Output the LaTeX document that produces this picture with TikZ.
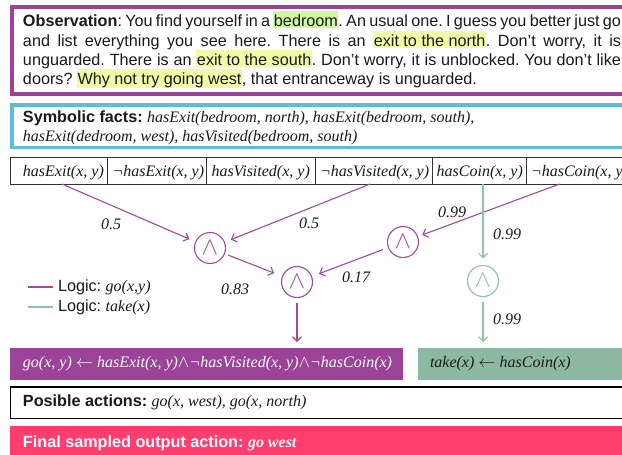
\documentclass[tikz,border=0pt]{standalone}
\usepackage{fontspec}
\setmainfont{Liberation Sans}
\newfontfamily\tms{Liberation Serif}
\usetikzlibrary{arrows.meta}
\definecolor{purp}{HTML}{9B4497}
\definecolor{purpline}{HTML}{A04AA0}
\definecolor{cyanb}{HTML}{5BBED8}
\definecolor{greenf}{HTML}{8CB9A0}
\definecolor{greenl}{HTML}{8CC4A6}
\definecolor{pinkf}{HTML}{FF3D6E}
\definecolor{hlgreen}{HTML}{CDF7A0}
\definecolor{hlyellow}{HTML}{F0FBA8}
\definecolor{tableline}{HTML}{333333}
\definecolor{txt}{HTML}{1A1A1A}
\newcommand\hlbox[2]{{\setlength\fboxsep{0pt}\colorbox{#1}{\rule[-1.5pt]{0pt}{17pt}\kern0.5pt #2\kern0.5pt}}}
\newcommand\ti[1]{{\tms\itshape\fontsize{16}{19}\selectfont #1}}
\begin{document}
\frenchspacing
\begin{tikzpicture}[x=1pt,y=-1pt,
  every node/.style={inner sep=0pt, outer sep=0pt},
  sans/.style={font=\fontsize{16.2}{19}\selectfont, anchor=base west, text=txt},
  frame/.style={draw, rectangle, anchor=north west},
  cell/.style={draw=tableline, line width=1pt, rectangle, anchor=north west, minimum height=27pt},
  celltxt/.style={anchor=base west, font=\tms\itshape\fontsize{16}{19}\selectfont, text=txt},
  gate/.style={circle, draw, line width=1.1pt, minimum size=31pt, font=\fontsize{24}{24}\selectfont},
  garrow/.style={-{Straight Barb[length=4.5pt,width=9pt]}, line width=1.1pt},
  lbl/.style={font=\tms\itshape\fontsize{16}{16}\selectfont, text=txt},
  ]
\useasboundingbox (0,0) rectangle (622,455);
\begin{scope}
\clip (0,0) rectangle (622,455);
\fill[white] (0,0) rectangle (622,455);

% observation
\node[frame, draw=purp, line width=3.5pt, minimum width=640pt, minimum height=87pt] (obs) at (12,7) {};
\node[sans] (ol1) at (23,27) {\makebox[598pt][s]{\textbf{Observation}: You find yourself in a \hlbox{hlgreen}{bedroom}. An usual one. I guess you better just go}};
\node[sans] (ol2) at (23,46) {\makebox[598pt][s]{and list everything you see here. There is an \hlbox{hlyellow}{exit to the north}. Don't worry, it is}};
\node[sans] (ol3) at (23,65.5) {\makebox[598pt][s]{unguarded. There is an \hlbox{hlyellow}{exit to the south}. Don't worry, it is unblocked. You don't like}};
\node[sans] (ol4) at (23,84.5) {doors? \hlbox{hlyellow}{Why not try going west}, that entranceway is unguarded.};

% symbolic facts
\node[frame, draw=cyanb, line width=3.5pt, minimum width=640pt, minimum height=42.5pt] (facts) at (12,105) {};
\node[sans] (f1) at (23,122) {\textbf{Symbolic facts:} \ti{hasExit(bedroom, north), hasExit(bedroom, south),}};
\node[sans] (f2) at (23,141) {\ti{hasExit(dedroom, west), hasVisited(bedroom, south)}};

% table
\node[cell, minimum width=96.8pt] (c1) at (10.5,157) {};
\node[cell, minimum width=99.4pt] (c2) at (107.3,157) {};
\node[cell, minimum width=108.3pt] (c3) at (206.7,157) {};
\node[cell, minimum width=117.3pt] (c4) at (315,157) {};
\node[cell, minimum width=94.4pt] (c5) at (432.3,157) {};
\node[cell, minimum width=110pt] (c6) at (526.7,157) {};
\node[celltxt] (t1) at (23,176) {hasExit(x, y)};
\node[celltxt] (t2) at (112.5,176) {¬hasExit(x, y)};
\node[celltxt] (t3) at (211.5,176) {hasVisited(x, y)};
\node[celltxt] (t4) at (320,176) {¬hasVisited(x, y)};
\node[celltxt] (t5) at (436.7,176) {hasCoin(x, y)};
\node[celltxt] (t6) at (531,176) {¬hasCoin(x, y)};

% rule boxes
\node[anchor=north west, fill=purp, minimum width=393pt, minimum height=32pt] (gobox) at (10,348) {};
\node[anchor=north west, fill=greenf, minimum width=230pt, minimum height=32pt] (takebox) at (418,348) {};
\node[anchor=west, text=white] (gotxt) at (23,364) {\ti{go(x, y) $\leftarrow$ hasExit(x, y)$\wedge$¬hasVisited(x, y)$\wedge$¬hasCoin(x)}};
\node[anchor=west, text=txt] (taketxt) at (430,364) {\ti{take(x) $\leftarrow$ hasCoin(x)}};

% actions
\node[frame, draw=black, line width=1.2pt, minimum width=640pt, minimum height=31.3pt] (actions) at (10.5,387) {};
\node[anchor=west, text=txt, font=\fontsize{16.2}{19}\selectfont] (acttxt) at (23,402) {\textbf{Posible actions:} \ti{go(x, west), go(x, north)}};

% final
\node[anchor=north west, fill=pinkf, minimum width=640pt, minimum height=32pt] (final) at (10,426) {};
\node[anchor=west, text=white, font=\fontsize{16.2}{19}\selectfont] (fintxt) at (23,443) {\textbf{Final sampled output action:} {\tms\bfseries\itshape\fontsize{16}{19}\selectfont go west}};

% gates
\node[gate, draw=purpline, text=purpline] (and1) at (210,248) {$\wedge$};
\node[gate, draw=purpline, text=purpline] (and2) at (297,282) {$\wedge$};
\node[gate, draw=purpline, text=purpline] (and3) at (403,242) {$\wedge$};
\node[gate, draw=greenl, text=greenl] (and4) at (483,281) {$\wedge$};

% connectors
\draw[garrow, draw=purpline, shorten >=7pt] ([xshift=3pt]c1.south) -- (and1);
\draw[garrow, draw=purpline, shorten >=7pt] ([xshift=-3.5pt]c4.south) -- (and1);
\draw[garrow, draw=purpline, shorten >=5pt] ([xshift=33pt]c6.south west) -- (and3);
\draw[garrow, draw=purpline, shorten <=4pt, shorten >=9pt] (and1) -- (and2);
\draw[garrow, draw=purpline, shorten <=6pt, shorten >=8pt] (and3) -- (and2);
\draw[garrow, draw=purpline, shorten <=5pt, shorten >=6pt] (and2) -- (and2 |- gobox.north);
\draw[garrow, draw=greenl, shorten >=7pt] (c5.south -| and4.north) -- (and4);
\draw[garrow, draw=greenl, shorten <=5pt, shorten >=6pt] (and4) -- (and4 |- takebox.north);

% weights
\node[lbl] (w1) at (111,224) {0.5};
\node[lbl] (w2) at (309,223) {0.5};
\node[lbl] (w3) at (452,212) {0.99};
\node[lbl] (w4) at (507,234) {0.99};
\node[lbl] (w5) at (356,277) {0.17};
\node[lbl] (w6) at (235,289) {0.83};
\node[lbl] (w7) at (507,319) {0.99};

% legend
\coordinate (lg1a) at (28,287);
\coordinate (lg1b) at (53,287);
\coordinate (lg2a) at (28,307);
\coordinate (lg2b) at (53,307);
\draw[purpline, line width=1.1pt] (lg1a) -- (lg1b);
\draw[greenl, line width=1.1pt] (lg2a) -- (lg2b);
\node[anchor=west, text=txt, font=\fontsize{16.2}{19}\selectfont] (lg1) at (58,287) {Logic: \ti{go(x,y)}};
\node[anchor=west, text=txt, font=\fontsize{16.2}{19}\selectfont] (lg2) at (58,307) {Logic: \ti{take(x)}};
\end{scope}
\end{tikzpicture}
\end{document}
